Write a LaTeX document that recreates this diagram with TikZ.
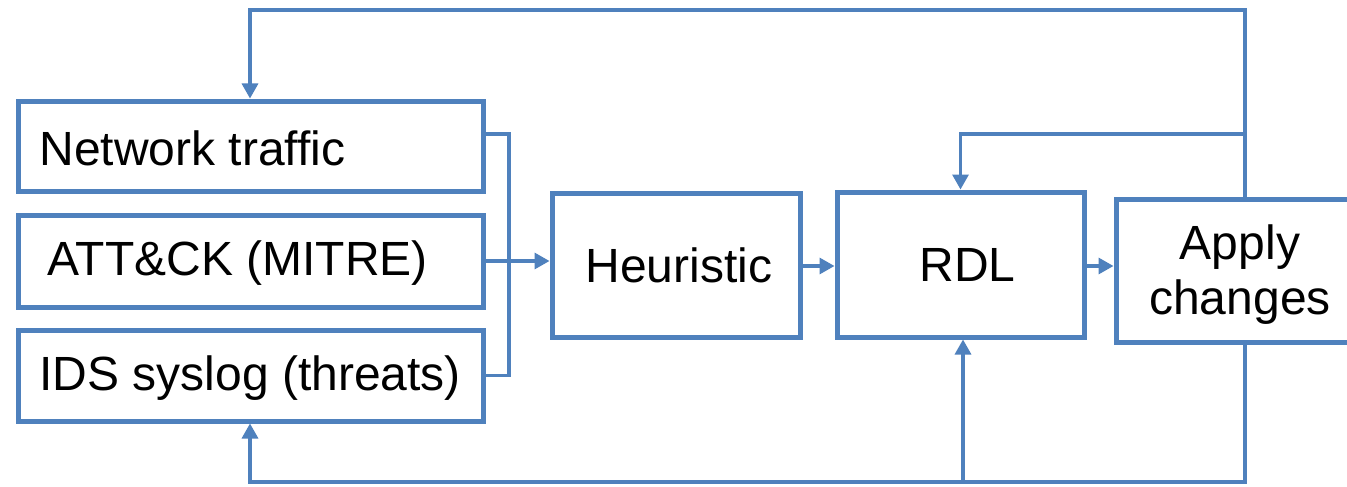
\documentclass[tikz,border=0pt]{standalone}
\usepackage{fontspec}
\setmainfont{Liberation Sans}
\usetikzlibrary{arrows.meta}
\definecolor{lineblue}{HTML}{4F81BD}
\tikzset{
  box/.style={draw=lineblue, line width=5pt, rectangle, inner sep=0pt, font=\fontsize{48pt}{55pt}\selectfont},
  conn/.style={draw=lineblue, line width=3.2pt},
  arr/.style={conn, -{Triangle[length=15pt,width=16pt]}},
}
\begin{document}
\begin{tikzpicture}[x=1pt,y=-1pt]
\useasboundingbox (0,0) rectangle (1347,487);
\fill[white] (0,0) rectangle (1347,487);
% left boxes
\node[box, minimum width=465, minimum height=90] (nt) at (250.5,146) {};
\node[anchor=west, font=\fontsize{48pt}{55pt}\selectfont] (ntt) at (36,148) {Network traffic};
\node[box, minimum width=465, minimum height=92] (att) at (250.5,261) {};
\node[anchor=west, font=\fontsize{48pt}{55pt}\selectfont] (attt) at (44,263) {ATT\&CK (MITRE)};
\node[box, minimum width=465, minimum height=91] (ids) at (250.5,375.5) {};
\node[anchor=west, font=\fontsize{48pt}{55pt}\selectfont] (idst) at (36,378) {IDS syslog (threats)};
% middle boxes
\node[box, minimum width=248, minimum height=144] (heu) at (676,265) {\hspace{6pt}Heuristic};
\node[box, minimum width=247, minimum height=145] (rdl) at (960.5,264.5) {\hspace{14pt}RDL};
\node[box, minimum width=248, minimum height=143] (app) at (1240,270.5) {};
\node[align=center, font=\fontsize{48pt}{55pt}\selectfont] (appt) at (1240,274.5) {Apply\\changes};
% coordinates
\coordinate (bus) at (509,134);
\coordinate (tr) at (1245,10);
\coordinate (tl) at (250,10);
\coordinate (b1) at (1245,134);
\coordinate (br) at (1245,482);
\coordinate (bl) at (250,482);
\coordinate (rb) at (963,482);
% connectors
\draw[conn] (nt.east |- bus) -- (bus) -- (bus |- ids.east) -- (ids.east);
\draw[arr] (att.east) -- (att.east -| heu.west);
\draw[arr] (heu.east |- 0,266) -- (rdl.west |- 0,266);
\draw[arr] (rdl.east |- 0,266) -- (app.west |- 0,266);
\draw[arr] (app.north -| tr) -- (tr) -- (tl) -- (nt.north -| tl);
\draw[arr] (b1) -| (rdl.north);
\draw[arr] (app.south -| br) -- (br) -- (bl) -- (ids.south -| bl);
\draw[arr] (rb) -- (rb |- rdl.south);
\end{tikzpicture}
\end{document}
